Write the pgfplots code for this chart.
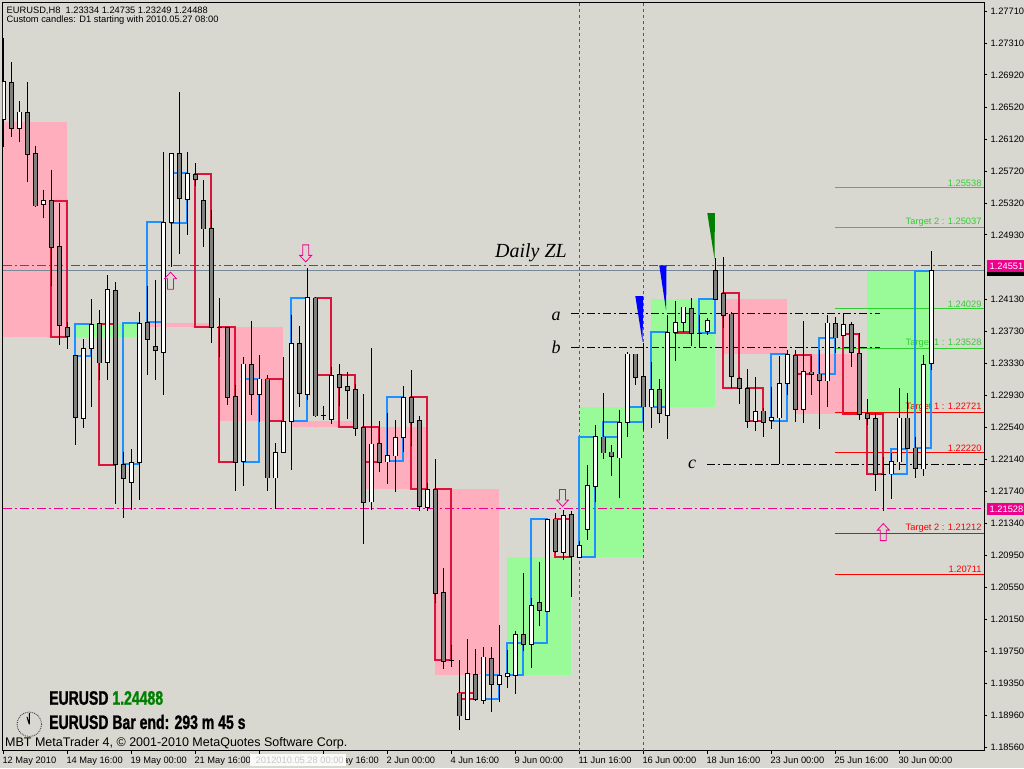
\documentclass[border=0pt]{standalone}
\usepackage{fontspec}
\usepackage{pgfplots}
\usepackage{pgfplotstable}
\pgfplotsset{compat=1.18}
\usetikzlibrary{plotmarks}
\setmainfont{Liberation Sans}
\newfontfamily\serifit{Liberation Serif}
\newfontfamily\fat[FakeStretch=0.72,FakeBold=1.2]{Liberation Sans}

\definecolor{bgcol}{HTML}{D8D8D0}
\definecolor{pinkbox}{HTML}{FFAEBE}
\definecolor{greenbox}{HTML}{98FB98}
\definecolor{dayred}{HTML}{DC143C}
\definecolor{dayblue}{HTML}{1E90FF}
\definecolor{lime}{HTML}{32CD32}
\definecolor{bidgray}{HTML}{778899}
\definecolor{bodygray}{HTML}{808080}
\definecolor{pennantgreen}{HTML}{008000}

\newcommand\mtfont{\fontsize{9.3}{11}\selectfont}

% H8 candles, i is the bar number, one bar every 8 pixels
\pgfplotstableread{
i high top bot low
0 1.27378 1.26831 1.26359 1.26023
2 1.26595 1.26458 1.26259 1.26085
5 1.25488 1.25352 1.25302 1.25140
10 1.23636 1.23524 1.22654 1.22530
11 1.24133 1.23823 1.23524 1.22791
13 1.24432 1.24245 1.23338 1.23126
16 1.22269 1.22095 1.21858 1.21510
17 1.23972 1.23835 1.22107 1.21635
20 1.25961 1.25091 1.23474 1.22940
21 1.25948 1.25936 1.25078 1.24531
23 1.25961 1.25700 1.25377 1.24929
30 1.23412 1.23325 1.22107 1.21809
32 1.23437 1.23139 1.22952 1.22604
34 1.22343 1.22231 1.21908 1.21523
35 1.23412 1.22617 1.22231 1.22231
36 1.23934 1.23586 1.22617 1.22008
38 1.24519 1.24146 1.22940 1.22878
41 1.23288 1.23189 1.22642 1.22579
46 1.23524 1.22331 1.21610 1.21510
48 1.22716 1.22182 1.22107 1.21833
49 1.22629 1.22418 1.22182 1.21734
50 1.23052 1.22915 1.22418 1.22231
53 1.21846 1.21771 1.21548 1.21498
58 1.19906 1.19484 1.18912 1.18900
60 1.19807 1.19683 1.19148 1.19098
62 1.20081 1.19459 1.19347 1.19123
63 1.19770 1.19484 1.19447 1.19297
64 1.20006 1.19969 1.19459 1.19223
66 1.20416 1.20329 1.19844 1.19546
68 1.21398 1.21398 1.20255 1.20255
70 1.21510 1.21448 1.20988 1.20889
72 1.21125 1.21075 1.20926 1.20926
73 1.22070 1.21809 1.21262 1.21137
74 1.22567 1.22418 1.21796 1.21610
77 1.22753 1.22604 1.22157 1.21659
78 1.23474 1.23450 1.22604 1.22418
81 1.23350 1.23014 1.22791 1.22530
83 1.23934 1.23723 1.22691 1.22393
84 1.24109 1.23847 1.23723 1.23363
85 1.24034 1.24034 1.23847 1.23723
88 1.23897 1.23860 1.23723 1.23686
94 1.23164 1.22741 1.22617 1.22492
96 1.23039 1.22666 1.22617 1.22517
97 1.23425 1.23077 1.22654 1.22082
98 1.23499 1.23450 1.23089 1.22940
100 1.23860 1.23238 1.22766 1.22592
103 1.23934 1.23835 1.23114 1.22791
105 1.23959 1.23823 1.23686 1.23686
111 1.22219 1.22119 1.21958 1.21647
112 1.23027 1.22654 1.22107 1.22008
115 1.23437 1.23325 1.22020 1.21933
116 1.24735 1.24488 1.23334 1.23249
}\upcandles

\pgfplotstableread{
i high top bot low
1 1.27080 1.26831 1.26259 1.26147
3 1.26831 1.26458 1.25936 1.25588
4 1.26035 1.25948 1.25290 1.25277
6 1.25737 1.25352 1.24767 1.24295
7 1.25327 1.24780 1.23798 1.23561
8 1.23847 1.23773 1.23661 1.23512
9 1.23425 1.23425 1.22654 1.22318
12 1.23997 1.23823 1.23338 1.23126
14 1.24345 1.24245 1.22070 1.21585
15 1.22231 1.22082 1.21908 1.21411
18 1.24295 1.23847 1.23624 1.23189
19 1.24370 1.23549 1.23499 1.23126
22 1.26707 1.25948 1.25377 1.24693
24 1.25824 1.25687 1.25625 1.25538
25 1.25613 1.25364 1.25004 1.24780
26 1.25240 1.25004 1.23785 1.23586
27 1.24146 1.23785 1.23785 1.23412
28 1.23785 1.23785 1.22915 1.22816
29 1.23064 1.22927 1.22107 1.21746
31 1.23860 1.23325 1.22952 1.22691
33 1.23189 1.23139 1.21908 1.21746
37 1.23798 1.23586 1.22965 1.22791
39 1.24158 1.24146 1.22679 1.22666
40 1.22803 1.22691 1.22691 1.22629
42 1.23325 1.23189 1.23027 1.22803
43 1.23226 1.23052 1.23002 1.22642
44 1.23077 1.23014 1.22530 1.22430
45 1.22952 1.22542 1.21610 1.21088
47 1.22617 1.22343 1.22107 1.21983
51 1.23251 1.22915 1.22604 1.22306
52 1.22679 1.22617 1.21548 1.21498
54 1.22144 1.21771 1.20478 1.20354
55 1.20789 1.20491 1.19633 1.19534
56 1.19832 1.19645 1.19645 1.19558
57 1.19645 1.19235 1.18949 1.18775
59 1.19782 1.19471 1.19161 1.19136
61 1.19807 1.19670 1.19347 1.18999
65 1.20727 1.19969 1.19844 1.19757
67 1.20864 1.20366 1.20255 1.20068
69 1.21473 1.21398 1.20988 1.20976
71 1.21498 1.21448 1.20926 1.20429
75 1.22965 1.22418 1.22219 1.22144
76 1.22318 1.22231 1.22169 1.21933
79 1.23450 1.23450 1.23164 1.23064
80 1.23586 1.23164 1.22791 1.22505
82 1.23139 1.23014 1.22716 1.22592
86 1.24146 1.24021 1.23711 1.23549
87 1.23934 1.23711 1.23711 1.23524
89 1.24643 1.24482 1.24133 1.24121
90 1.24656 1.24208 1.23934 1.23773
91 1.23972 1.23947 1.23164 1.23027
92 1.23164 1.23151 1.23027 1.22828
93 1.23263 1.23027 1.22617 1.22530
95 1.22778 1.22741 1.22604 1.22418
99 1.23499 1.23437 1.22766 1.22604
101 1.23425 1.23226 1.23189 1.22940
102 1.23499 1.23201 1.23126 1.22517
104 1.23910 1.23835 1.23649 1.23462
106 1.23847 1.23810 1.23462 1.23288
107 1.23711 1.23462 1.22704 1.22629
108 1.22890 1.22704 1.22642 1.22567
109 1.22716 1.22654 1.21958 1.21746
110 1.22169 1.21958 1.21958 1.21498
113 1.22965 1.22654 1.22269 1.22269
114 1.22418 1.22281 1.22032 1.21908
}\downcandles

% shaded block: colour, first bar, last bar, top, bottom
\newcommand\block[5]{\addplot[fill=#1,draw=none] coordinates {(#2,#4)(#3,#4)(#3,#5)(#2,#5)} -- cycle;}
% daily candle outline
\newcommand\dayc[5]{\addplot[draw=#1,line width=2pt,line join=miter] coordinates {(#2,#4)(#3,#4)(#3,#5)(#2,#5)} -- cycle;}
\newcommand\level[4]{\addplot[#1] coordinates {(#2,#4)(#3,#4)};}
\newcommand\candles[2]{%
  \addplot[draw=none,error bars/.cd,y dir=both,y explicit,error mark=none,
    error bar style={draw=black,line width=1.2pt}]
    table[x=i,y=top,y error plus expr=\thisrow{high}-\thisrow{top},y error minus expr=\thisrow{top}-\thisrow{low}] {#1};
  \addplot[draw=none,error bars/.cd,y dir=both,y explicit,error mark=none,
    error bar style={draw=black,line width=5.4pt}]
    table[x=i,y expr=(\thisrow{top}+\thisrow{bot})/2,y error expr=(\thisrow{top}-\thisrow{bot})/2+0.00006] {#1};
  \addplot[draw=none,error bars/.cd,y dir=both,y explicit,error mark=none,
    error bar style={draw=#2,line width=3.2pt}]
    table[x=i,y expr=(\thisrow{top}+\thisrow{bot})/2,y error expr={max(0,(\thisrow{top}-\thisrow{bot})/2-0.00006)}] {#1};
}

\pgfdeclareplotmark{hollowdown}{%
  \pgfpathmoveto{\pgfqpoint{-3pt}{8.5pt}}\pgfpathlineto{\pgfqpoint{3pt}{8.5pt}}%
  \pgfpathlineto{\pgfqpoint{3pt}{-2pt}}\pgfpathlineto{\pgfqpoint{6pt}{-2pt}}%
  \pgfpathlineto{\pgfqpoint{0pt}{-8.5pt}}\pgfpathlineto{\pgfqpoint{-6pt}{-2pt}}%
  \pgfpathlineto{\pgfqpoint{-3pt}{-2pt}}\pgfpathclose\pgfusepathqstroke}
\pgfdeclareplotmark{hollowup}{%
  \pgfpathmoveto{\pgfqpoint{-3pt}{-8.5pt}}\pgfpathlineto{\pgfqpoint{3pt}{-8.5pt}}%
  \pgfpathlineto{\pgfqpoint{3pt}{2pt}}\pgfpathlineto{\pgfqpoint{6pt}{2pt}}%
  \pgfpathlineto{\pgfqpoint{0pt}{8.5pt}}\pgfpathlineto{\pgfqpoint{-6pt}{2pt}}%
  \pgfpathlineto{\pgfqpoint{-3pt}{2pt}}\pgfpathclose\pgfusepathqstroke}

\begin{document}
\begin{tikzpicture}[x=1pt,y=1pt]
\useasboundingbox (0,0) rectangle (1024,768);
\fill[bgcol] (0,0) rectangle (1024,768);
\begin{axis}[
  at={(2.5pt,17.5pt)},anchor=south west,
  scale only axis,width=981.8pt,height=748pt,
  xmin=-0.1,xmax=122.625,ymin=1.18520,ymax=1.27819,
  axis line style={black,line width=1pt},
  tick style={black,line width=0.8pt},
  tick align=outside,major tick length=3pt,
  xtick pos=bottom,ytick pos=right,yticklabel pos=right,
  xtick={0,8,16,24,32,40,48,56,64,72,80,88,96,104,112},
  xticklabels={12 May 2010,14 May 16:00,19 May 00:00,21 May 16:00,{},28 May 16:00,2 Jun 00:00,4 Jun 16:00,9 Jun 00:00,11 Jun 16:00,16 Jun 00:00,18 Jun 16:00,23 Jun 00:00,25 Jun 16:00,30 Jun 00:00},
  xticklabel style={font=\mtfont,anchor=north west,inner sep=0pt,xshift=-1pt,yshift=-3.5pt},
  ytick={1.27710,1.27310,1.26920,1.26520,1.26120,1.25720,1.25320,1.24930,1.24130,1.23730,1.23330,1.22930,1.22540,1.22140,1.21740,1.21340,1.20950,1.20550,1.20150,1.19750,1.19350,1.18960,1.18560},
  yticklabel style={font=\mtfont,anchor=west,inner sep=0pt,xshift=3pt,
    /pgf/number format/.cd,fixed,fixed zerofill,precision=5,1000 sep={},assume math mode=true},
  scaled y ticks=false,
  clip=true,
]
% three day blocks behind everything
\block{pinkbox}{0}{8}{1.26334}{1.23661}
\block{greenbox}{9}{17}{1.23835}{1.23661}
\block{pinkbox}{18}{26}{1.23835}{1.23785}
\block{pinkbox}{27}{35}{1.23785}{1.22617}
\block{pinkbox}{36}{44}{1.22617}{1.22542}
\block{pinkbox}{45}{53}{1.22542}{1.21771}
\block{pinkbox}{54}{62}{1.21771}{1.19459}
\block{greenbox}{63}{71}{1.20926}{1.19459}
\block{greenbox}{72}{80}{1.22791}{1.20926}
\block{greenbox}{81}{89}{1.24133}{1.22791}
\block{pinkbox}{90}{98}{1.24133}{1.23450}
\block{pinkbox}{99}{107}{1.23450}{1.22704}
\block{greenbox}{108}{116}{1.24482}{1.22704}

% vertical period separators
\addplot[color=black!65,line width=0.8pt,dash pattern=on 3pt off 3pt] coordinates {(72,1.18520)(72,1.27819)};
\addplot[color=black!65,line width=0.8pt,dash pattern=on 3pt off 3pt] coordinates {(80,1.18520)(80,1.27819)};

% targets
\level{lime,line width=1pt}{104}{122.6}{1.25513}
\level{lime,line width=1pt}{104}{122.6}{1.25016}
\level{lime,line width=1pt}{104}{122.6}{1.24009}
\level{lime,line width=1pt}{104}{122.6}{1.23512}
\level{red,line width=1pt}{104}{122.6}{1.22721}
\level{red,line width=1pt}{104}{122.6}{1.22220}
\level{red,line width=1pt}{104}{122.6}{1.21212}
\level{red,line width=1pt}{104}{122.6}{1.20711}
\node[font=\mtfont,text=lime,anchor=south east,inner sep=0pt,yshift=1pt] at (axis cs:122.3,1.25513) {1.25538};
\node[font=\mtfont,text=lime,anchor=south east,inner sep=0pt,yshift=1pt] at (axis cs:122.3,1.25016) {Target 2 : 1.25037};
\node[font=\mtfont,text=lime,anchor=south east,inner sep=0pt,yshift=1pt] at (axis cs:122.3,1.24009) {1.24029};
\node[font=\mtfont,text=lime,anchor=south east,inner sep=0pt,yshift=1pt] at (axis cs:122.3,1.23512) {Target 1 : 1.23528};
\node[font=\mtfont,text=red,anchor=south east,inner sep=0pt,yshift=1pt] at (axis cs:122.3,1.22721) {Target 1 : 1.22721};
\node[font=\mtfont,text=red,anchor=south east,inner sep=0pt,yshift=1pt] at (axis cs:122.3,1.22220) {1.22220};
\node[font=\mtfont,text=red,anchor=south east,inner sep=0pt,yshift=1pt] at (axis cs:122.3,1.21212) {Target 2 : 1.21212};
\node[font=\mtfont,text=red,anchor=south east,inner sep=0pt,yshift=1pt] at (axis cs:122.3,1.20711) {1.20711};

% zigzag levels
\level{black,line width=0.9pt,dash pattern=on 8pt off 3pt on 2pt off 3pt}{71}{109.6}{1.23953}
\level{black,line width=0.9pt,dash pattern=on 8pt off 3pt on 2pt off 3pt}{71}{109.6}{1.23533}
\level{black,line width=0.9pt,dash pattern=on 8pt off 3pt on 2pt off 3pt}{88}{122.625}{1.22078}

% price lines
\level{magenta,line width=1pt,dash pattern=on 9pt off 3pt on 2pt off 3pt}{-0.1}{122.625}{1.24551}
\level{magenta,line width=1pt,dash pattern=on 9pt off 3pt on 2pt off 3pt}{-0.1}{122.625}{1.21528}
\level{bidgray,line width=1pt}{-0.1}{122.625}{1.24488}

% daily candles
\dayc{dayred}{6}{8}{1.25352}{1.23661}
\dayc{dayblue}{9}{11}{1.23823}{1.23425}
\dayc{dayred}{12}{14}{1.23823}{1.22070}
\dayc{dayblue}{15}{17}{1.23835}{1.22082}
\dayc{dayblue}{18}{20}{1.25091}{1.23847}
\dayc{dayblue}{21}{23}{1.25700}{1.25078}
\dayc{dayred}{24}{26}{1.25687}{1.23785}
\dayc{dayred}{27}{29}{1.23785}{1.22107}
\dayc{dayblue}{30}{32}{1.23139}{1.22107}
\dayc{dayred}{33}{35}{1.23139}{1.22617}
\dayc{dayblue}{36}{38}{1.24146}{1.22617}
\dayc{dayred}{39}{41}{1.24146}{1.23189}
\dayc{dayred}{42}{44}{1.23189}{1.22542}
\dayc{dayred}{45}{47}{1.22542}{1.22107}
\dayc{dayblue}{48}{50}{1.22915}{1.22119}
\dayc{dayred}{51}{53}{1.22915}{1.21771}
\dayc{dayred}{54}{56}{1.21771}{1.19645}
\dayc{dayred}{57}{59}{1.19235}{1.19161}
\dayc{dayblue}{60}{62}{1.19459}{1.19161}
\dayc{dayblue}{63}{65}{1.19857}{1.19459}
\dayc{dayblue}{66}{68}{1.21398}{1.19857}
\dayc{dayred}{69}{71}{1.21398}{1.20926}
\dayc{dayblue}{72}{74}{1.22418}{1.20926}
\dayc{dayblue}{75}{77}{1.22604}{1.22418}
\dayc{dayblue}{78}{80}{1.22791}{1.22604}
\dayc{dayblue}{81}{83}{1.23723}{1.22791}
\dayc{dayred}{84}{86}{1.23723}{1.23711}
\dayc{dayblue}{87}{89}{1.24133}{1.23711}
\dayc{dayred}{90}{92}{1.24208}{1.23027}
\dayc{dayred}{93}{95}{1.23027}{1.22617}
\dayc{dayblue}{96}{98}{1.23450}{1.22617}
\dayc{dayred}{99}{101}{1.23437}{1.23201}
\dayc{dayblue}{102}{104}{1.23649}{1.23201}
\dayc{dayred}{105}{107}{1.23698}{1.22704}
\dayc{dayred}{108}{110}{1.22704}{1.21958}
\dayc{dayblue}{111}{113}{1.22269}{1.21958}
\dayc{dayblue}{114}{116}{1.24482}{1.22281}

\candles{\upcandles}{white}
\candles{\downcandles}{bodygray}

% pennants
\addplot[fill=blue,draw=none] coordinates {(79,1.24170)(80,1.24170)(79.9,1.23600)} -- cycle;
\addplot[fill=blue,draw=none] coordinates {(82,1.24550)(82.9,1.24550)(82.85,1.23990)} -- cycle;
\addplot[fill=pennantgreen,draw=none] coordinates {(88,1.25200)(88.95,1.25200)(88.9,1.24630)} -- cycle;

% signal arrows
\addplot[only marks,mark=hollowdown,color=magenta,line width=0.8pt] coordinates {(37.8,1.24700)(69.9,1.21660)};
\addplot[only marks,mark=hollowup,color=magenta,line width=0.8pt] coordinates {(20.9,1.24360)(110,1.21235)};
\end{axis}

% texts over the chart, positions in picture pixels
\node[font=\mtfont,anchor=west,inner sep=0pt] at (6.5,757.5) {EURUSD,H8\ \ 1.23334 1.24735 1.23249 1.24488};
\node[font=\mtfont,anchor=west,inner sep=0pt] at (6.5,747.5) {Custom candles: D1 starting with 2010.05.27 08:00};
\node[anchor=west,inner sep=0pt,font={\fontsize{12.5}{14}\selectfont}] at (5,25) {MBT MetaTrader 4, © 2001-2010 MetaQuotes Software Corp.};
\node[anchor=west,inner sep=0pt,font={\fontsize{19.5}{22}\selectfont\fat\bfseries}] at (49,70) {EURUSD \textcolor{pennantgreen}{1.24488}};
\node[anchor=west,inner sep=0pt,font={\fontsize{19.5}{22}\selectfont\fat\bfseries}] at (49,46) {EURUSD Bar end: 293 m 45 s};
\node[anchor=center,inner sep=0pt,font={\fontsize{20}{22}\selectfont\serifit\itshape}] at (531,515) {Daily ZL};
\node[anchor=center,inner sep=0pt,font={\fontsize{18}{20}\selectfont\serifit\itshape}] at (556,452) {a};
\node[anchor=center,inner sep=0pt,font={\fontsize{18}{20}\selectfont\serifit\itshape}] at (556,421) {b};
\node[anchor=center,inner sep=0pt,font={\fontsize{18}{20}\selectfont\serifit\itshape}] at (692,304) {c};

% clock
\draw[black!75,densely dotted,line width=0.9pt] (29.3,43.7) circle (12.3);
\draw[black,line width=1pt] (29.3,43.7) -- (29.3,55) (29.3,43.7) -- (27,51);

% cursor date box on the time axis
\node[fill=white!88!bgcol,text=black!22,font=\mtfont,anchor=west,inner sep=0pt,minimum height=12pt,minimum width=96pt] at (250,8) {\hspace{3pt}2012010.05.28 00:00};

% price tags at the right edge
\fill[black] (987,492) rectangle (1024,497);
\node[fill=magenta,text=white,font=\mtfont,anchor=west,inner sep=0pt,minimum height=12pt,minimum width=37pt] at (987,502) {\,1.24551};
\node[fill=magenta,text=white,font=\mtfont,anchor=west,inner sep=0pt,minimum height=12pt,minimum width=37pt] at (987,259) {\,1.21528};
\end{tikzpicture}
\end{document}
